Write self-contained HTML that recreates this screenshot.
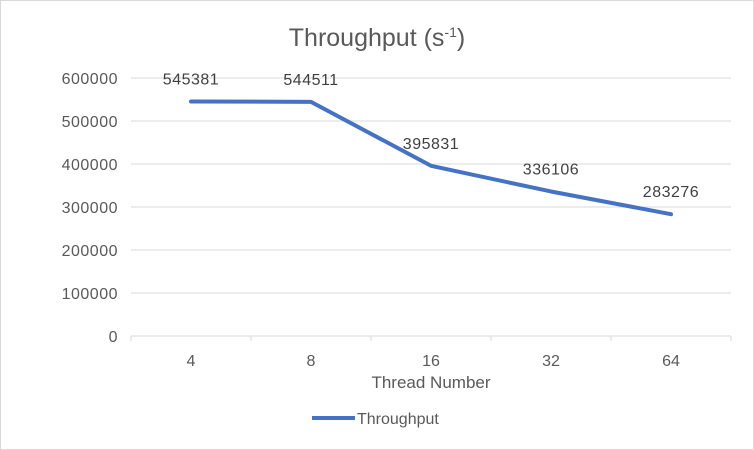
<!DOCTYPE html>
<html><head><meta charset="utf-8"><style>
body{margin:0;background:#fff;}
svg{display:block;font-family:"Liberation Sans",sans-serif;}
</style></head><body>
<svg id="chart" width="754" height="450">
<rect x="0.5" y="0.5" width="753" height="449" fill="#fff" stroke="#d9d9d9"/>
<text x="377" y="46" text-anchor="middle" font-size="25" fill="#595959">Throughput (s<tspan dy="-9" font-size="14">-1</tspan><tspan dy="9">)</tspan></text>
<g id="grid"></g><g id="yt"></g><g id="xt"></g><g id="series"></g>
<text x="431" y="388" text-anchor="middle" font-size="17" fill="#595959">Thread Number</text>
<line x1="312" y1="418" x2="355" y2="418" stroke="#4472c4" stroke-width="4"/>
<text x="357" y="424" font-size="16" fill="#595959">Throughput</text>
</svg>
<script>
const categories=["4","8","16","32","64"];
const values=[545381,544511,395831,336106,283276];
const yTicks=[0,100000,200000,300000,400000,500000,600000];
const NS="http://www.w3.org/2000/svg";
const L=131,R=731,Y0=336,Y1=78,YMAX=600000;
const bw=(R-L)/categories.length;
const xs=i=>L+bw*(i+0.5);
const ys=v=>Y0-(Y0-Y1)*v/YMAX;
function mk(t,a,p){const e=document.createElementNS(NS,t);for(const k in a)e.setAttribute(k,a[k]);document.getElementById(p).appendChild(e);return e;}
yTicks.forEach(v=>{
 const g=mk("line",{x1:L,x2:R,y1:ys(v),y2:ys(v),stroke:"#d9d9d9","stroke-width":1},"grid");
 
 
 const t=mk("text",{x:118,y:ys(v)+6,"text-anchor":"end","font-size":16,"letter-spacing":0.5,fill:"#595959"},"yt");
 t.textContent=v;
 
 
});
for(let i=0;i<=categories.length;i++){
 const k=mk("line",{x1:L+bw*i,x2:L+bw*i,y1:Y0,y2:Y0+5,stroke:"#d9d9d9"},"xt");
 
 
}
categories.forEach((c,i)=>{
 const t=mk("text",{x:xs(i),y:366,"text-anchor":"middle","font-size":16,fill:"#595959"},"xt");
 t.textContent=c;
 
 
});
const pl=mk("polyline",{points:values.map((v,i)=>xs(i)+","+ys(v)).join(" "),fill:"none",stroke:"#4472c4","stroke-width":4,"stroke-linejoin":"round","stroke-linecap":"round"},"series");


values.forEach((v,i)=>{
 const t=mk("text",{x:xs(i),y:ys(v)-17,"text-anchor":"middle","font-size":16,"letter-spacing":0.5,fill:"#404040"},"series");
 t.textContent=v;
 
 
});
</script>
</body></html>
